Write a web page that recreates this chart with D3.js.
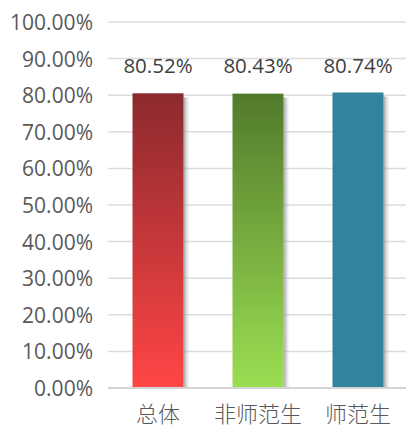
<!DOCTYPE html>
<html><head><meta charset="utf-8">
<script src="https://cdn.jsdelivr.net/npm/d3@7/dist/d3.min.js"></script>
<style>body{margin:0;background:#fff;}svg{display:block;}</style>
</head><body>
<svg id="c" width="406" height="428"></svg>
<script>
const categories = ["总体", "非师范生", "师范生"];
const values = [80.52, 80.43, 80.74];
const yTicks = [0,10,20,30,40,50,60,70,80,90,100];
const topColors = ["#8B2A2E", "#527A2C", "#31849B"];
const bottomColors = ["#FF4545", "#9BDE52", "#31849B"];

const svg = d3.select("#c");
const x = d3.scaleBand().domain(categories).range([108, 408]).paddingInner(0.49).paddingOuter(0.245);
const y = d3.scaleLinear().domain([0, 100]).range([388, 22]);

const defs = svg.append("defs");
categories.forEach((c, i) => {
  const g = defs.append("linearGradient").attr("id", "g" + i).attr("x1", 0).attr("y1", 0).attr("x2", 0).attr("y2", 1);
  g.append("stop").attr("offset", "0%").attr("stop-color", topColors[i]);
  g.append("stop").attr("offset", "100%").attr("stop-color", bottomColors[i]);
});
const sh = defs.append("linearGradient").attr("id", "sh").attr("x1", 0).attr("x2", 1).attr("y1", 0).attr("y2", 0);
sh.append("stop").attr("offset", "0%").attr("stop-color", "#888").attr("stop-opacity", 0.8);
sh.append("stop").attr("offset", "100%").attr("stop-color", "#bbb").attr("stop-opacity", 0);

// gridlines
const yAxis = d3.axisLeft(y).tickValues(yTicks).tickSize(0).tickPadding(0).tickFormat(d => d.toFixed(2) + "%");
svg.append("g").selectAll("line").data(yTicks).join("line")
  .attr("x1", 108).attr("x2", 406)
  .attr("y1", d => y(d)).attr("y2", d => y(d))
  .attr("stroke", d => d === 0 ? "#d4d4d4" : "#dcdcdc")
  .attr("stroke-width", d => d === 0 ? 2 : 1.5);

const ag = svg.append("g").attr("transform", "translate(93,0)").call(yAxis);
ag.select(".domain").remove();
ag.selectAll("text").attr("font-family", "'Open Sans', sans-serif").attr("font-size", 21)
  .attr("fill", "#595959").attr("dy", "0.36em");

// shadows
svg.append("g").selectAll("rect").data(categories).join("rect")
  .attr("x", d => x(d) + x.bandwidth()).attr("width", 6)
  .attr("y", (d, i) => y(values[i]) + 4).attr("height", (d, i) => y(0) - y(values[i]) - 5)
  .attr("fill", "url(#sh)");

// bars
svg.append("g").selectAll("rect").data(categories).join("rect")
  .attr("x", d => x(d)).attr("width", x.bandwidth())
  .attr("y", (d, i) => y(values[i])).attr("height", (d, i) => y(0) - y(values[i]) - 1)
  .attr("fill", (d, i) => "url(#g" + i + ")");

// value labels
svg.append("g").selectAll("text").data(categories).join("text")
  .attr("x", d => x(d) + x.bandwidth() / 2).attr("y", 73)
  .attr("text-anchor", "middle")
  .attr("font-family", "'Open Sans', sans-serif").attr("font-size", 20.5)
  .attr("fill", "#404040")
  .text((d, i) => values[i].toFixed(2) + "%");

// x labels
const xAxis = d3.axisBottom(x).tickSize(0).tickPadding(0);
const xg = svg.append("g").attr("transform", "translate(0,422)").call(xAxis);
xg.select(".domain").remove();
xg.selectAll("text").attr("dy", 0).attr("y", 0)
  .attr("font-family", "'Noto Sans CJK SC', sans-serif").attr("font-size", 22)
  .attr("fill", "#595959").attr("font-weight", 300);
</script>
</body></html>
